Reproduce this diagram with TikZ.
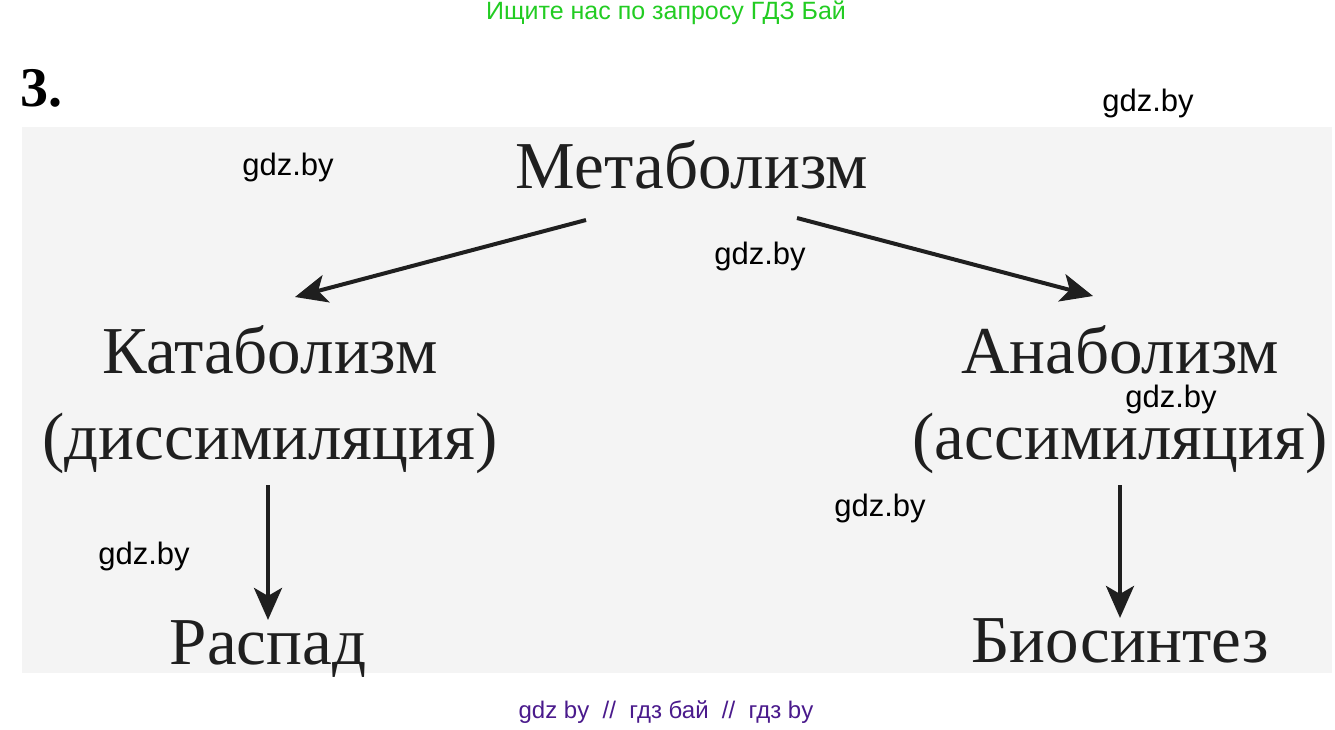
\documentclass[tikz,border=0pt]{standalone}
\usepackage{fontspec}
\setmainfont{Liberation Serif}
\newfontfamily\wmfont{Liberation Sans}
\usetikzlibrary{arrows.meta,calc}
\definecolor{panel}{HTML}{F4F4F4}
\definecolor{wmgreen}{HTML}{22CC22}
\definecolor{wmpurple}{HTML}{4A1A8C}
\tikzset{
  term/.style={font=\fontsize{67}{86}\selectfont, text=black!88, align=center, inner sep=0pt},
  wm/.style={font=\wmfont\fontsize{31}{34}\selectfont, text=black, inner sep=0pt},
  arr/.style={line width=4pt, draw=black!88, -{Stealth[length=32pt,width=28pt,inset=8pt]}}
}
\begin{document}
\begin{tikzpicture}[x=1pt,y=-1pt]
\useasboundingbox (0,0) rectangle (1335,729);
\fill[white] (0,0) rectangle (1335,729);
\fill[panel] (22,127) rectangle (1332,673);
\node[font=\wmfont\fontsize{25}{28}\selectfont, text=wmgreen, inner sep=0pt] (top) at (666,13) {Ищите нас по запросу ГДЗ Бай};
\node[font=\bfseries\fontsize{56}{60}\selectfont, inner sep=0pt, anchor=west] (num) at (20,88) {3.};
\node[term, anchor=base] (met) at (692,188) {Метаболизм};
\node[term] (kat) at (270,400) {Катаболизм\\(диссимиляция)};
\node[term] (ana) at (1120,400) {Анаболизм\\(ассимиляция)};
\node[term, anchor=base] (ras) at (268,664) {Распад};
\node[term, anchor=base] (bio) at (1120,662) {Биосинтез};
\coordinate (m1) at (586,220);
\coordinate (m2) at (797,218);
\coordinate (k1) at (295,297);
\coordinate (a1) at (1093,296);
\coordinate (k2) at (268,485);
\coordinate (a2) at (1120,485);
\draw[arr] (m1) -- (k1);
\draw[arr] (m2) -- (a1);
\draw[arr] (k2) -- (ras.north);
\draw[arr] (a2) -- (bio.north);
\node[wm] (w1) at (1148,103) {gdz.by};
\node[wm] (w2) at (288,167) {gdz.by};
\node[wm] (w3) at (760,256) {gdz.by};
\node[wm] (w4) at (1171,399) {gdz.by};
\node[wm] (w5) at (880,508) {gdz.by};
\node[wm] (w6) at (144,556) {gdz.by};
\node[font=\wmfont\fontsize{24}{28}\selectfont, text=wmpurple, inner sep=0pt] (bot) at (666,712) {gdz by \ // \ гдз бай \ // \ гдз by};
\end{tikzpicture}
\end{document}
